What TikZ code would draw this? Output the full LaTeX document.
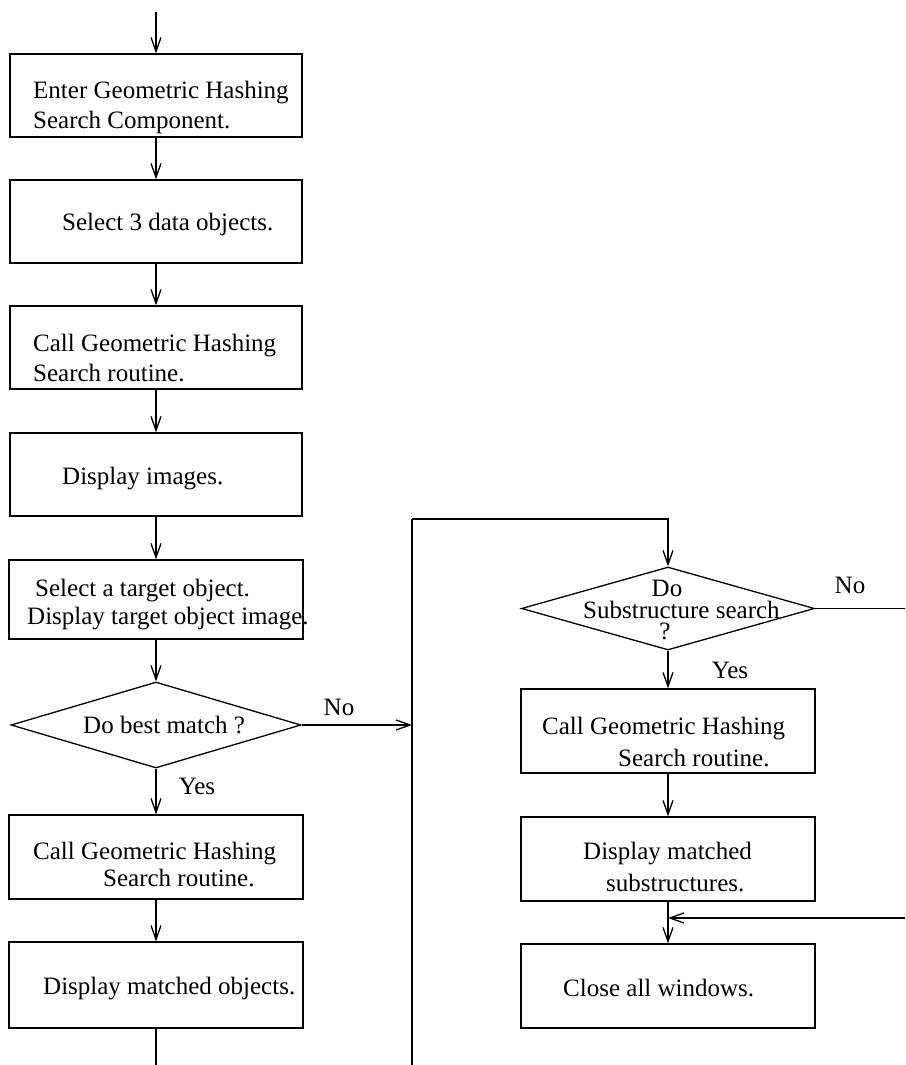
\documentclass[tikz,border=0pt]{standalone}
\usepackage{fontspec}
\setmainfont{Liberation Serif}
\usetikzlibrary{arrows.meta,shapes.geometric}
\begin{document}
\begin{tikzpicture}[x=1pt,y=-1pt,
  every node/.style={font=\fontsize{25}{29}\selectfont},
  box/.style={draw, line width=1.3pt, rectangle, inner sep=0pt, minimum height=84pt},
  lbox/.style={box, minimum width=292pt},
  rbox/.style={box, minimum width=294pt},
  decision/.style={draw, line width=1.3pt, diamond, inner sep=0pt},
  txt/.style={anchor=base west, inner sep=0pt},
  lbl/.style={anchor=base, inner sep=0pt},
  flow/.style={line width=1.3pt, -{Straight Barb[length=14pt,width=10pt]}},
  link/.style={line width=1.3pt}]
\useasboundingbox (0,0) rectangle (905,1065);

% ---- left column ----
\node[lbox, minimum height=83pt] (b1) at (156,95.5) {};
\node[lbox, minimum height=83pt] (b2) at (156,221.5) {};
\node[lbox, minimum height=83pt] (b3) at (156,347.5) {};
\node[lbox, minimum height=83pt] (b4) at (156,474.5) {};
\node[lbox, minimum width=294pt, minimum height=79pt] (b5) at (156,599.5) {};
\node[decision, minimum width=290pt, minimum height=86pt] (d1) at (156,725) {};
\node[lbox, minimum width=294pt, minimum height=84pt] (b6) at (156,857) {};
\node[lbox, minimum width=294pt, minimum height=86pt] (b7) at (156,985) {};

\node[txt] (t1a) at (33,98)  {Enter Geometric Hashing};
\node[txt] (t1b) at (33,128) {Search Component.};
\node[txt] (t2)  at (62,230) {Select 3 data objects.};
\node[txt] (t3a) at (33,351) {Call Geometric Hashing};
\node[txt] (t3b) at (33,381) {Search routine.};
\node[txt] (t4)  at (62,484) {Display images.};
\node[txt] (t5a) at (35,596) {Select a target object.};
\node[txt] (t5b) at (27,624) {Display target object image.};
\node[txt] (td1) at (83,733) {Do best match ?};
\node[txt] (t6a) at (33,859) {Call Geometric Hashing};
\node[txt] (t6b) at (103,886) {Search routine.};
\node[txt] (t7)  at (43,994) {Display matched objects.};

\node[lbl] (no1)  at (339,715) {No};
\node[lbl] (yes1) at (197,794) {Yes};

\coordinate (in)  at (156,12);
\coordinate (out) at (156,1065);

\draw[flow] (in) -- (b1);
\draw[flow] (b1) -- (b2);
\draw[flow] (b2) -- (b3);
\draw[flow] (b3) -- (b4);
\draw[flow] (b4) -- (b5);
\draw[flow] (b5) -- (d1);
\draw[flow] (d1) -- (b6);
\draw[flow] (b6) -- (b7);
\draw[link] (b7) -- (out);

% ---- connecting loop ----
\coordinate (lb) at (412,1065);
\coordinate (lt) at (412,519);

% ---- right column ----
\node[decision, minimum width=293pt, minimum height=83pt] (d2) at (668,608.5) {};
\node[rbox] (r1) at (668,731) {};
\node[rbox] (r2) at (668,859) {};
\node[rbox] (r3) at (668,986) {};

\node[lbl] (td2a) at (667,596) {Do};
\node[txt] (td2b) at (583,618) {Substructure search};
\node[lbl] (td2c) at (665,639) {?};
\node[txt] (tr1a) at (542,734) {Call Geometric Hashing};
\node[txt] (tr1b) at (618,766) {Search routine.};
\node[txt] (tr2a) at (583,859) {Display matched};
\node[txt] (tr2b) at (606,891) {substructures.};
\node[txt] (tr3)  at (563,996) {Close all windows.};

\node[lbl] (no2)  at (850,593) {No};
\node[lbl] (yes2) at (730,678) {Yes};

\coordinate (redge) at (905,0);
\coordinate (ret) at (905,918);

\draw[link] (lb) -- (lt);
\draw[flow] (lt) -| (d2.north);
\draw[flow] (d1.east) -- (d1.east -| lb);
\draw[link] (d2.east) -- (d2.east -| redge);
\draw[flow] (d2) -- (r1);
\draw[flow] (r1) -- (r2);
\draw[flow] (r2) -- (r3);
\draw[flow] (ret) -- (ret -| r2.south);
\end{tikzpicture}
\end{document}
